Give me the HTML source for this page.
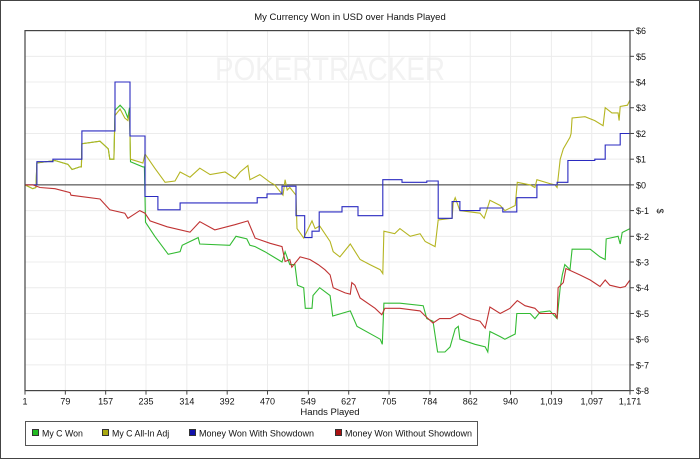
<!DOCTYPE html>
<html><head><meta charset="utf-8"><style>
html,body{margin:0;padding:0;background:#fff;}
svg{display:block;font-family:"Liberation Sans",sans-serif;}
</style></head><body>
<svg id="chart" width="700" height="459" viewBox="0 0 700 459">
<rect x="0.5" y="0.5" width="699" height="458" fill="#fff" stroke="#444"/>
<text x="350" y="20" text-anchor="middle" font-size="9.5" fill="#111">My Currency Won in USD over Hands Played</text>
<text x="330" y="80" text-anchor="middle" font-size="32" fill="#f2f2f2" textLength="230" lengthAdjust="spacingAndGlyphs">POKERTRACKER</text>
<g id="grid"></g>
<g id="series"></g>
<g id="axes"></g>
<text x="330" y="415" text-anchor="middle" font-size="9.5" fill="#111">Hands Played</text>
<text transform="translate(657,211) rotate(90)" text-anchor="middle" font-size="9" fill="#111">$</text>
<g>
<rect x="25.5" y="421.5" width="452" height="24" fill="#fff" stroke="#555"/>
<g><rect x="32.5" y="429.5" width="6" height="6" fill="#22bb22" stroke="#333"/><text x="42" y="436.5" font-size="8.8" fill="#111">My C Won</text></g>
<g><rect x="102.5" y="429.5" width="6" height="6" fill="#aaaa11" stroke="#333"/><text x="112" y="436.5" font-size="8.8" fill="#111">My C All-In Adj</text></g>
<g><rect x="189.5" y="429.5" width="6" height="6" fill="#1111aa" stroke="#333"/><text x="199" y="436.5" font-size="8.8" fill="#111" textLength="115" lengthAdjust="spacingAndGlyphs">Money Won With Showdown</text></g>
<g><rect x="335.5" y="429.5" width="6" height="6" fill="#aa1111" stroke="#333"/><text x="345" y="436.5" font-size="8.8" fill="#111" textLength="127" lengthAdjust="spacingAndGlyphs">Money Won Without Showdown</text></g>
</g>
</svg>
<script>
const xTicks=[1,79,157,235,314,392,470,549,627,705,784,862,940,1019,1097,1171];
const xTickLabels=["1","79","157","235","314","392","470","549","627","705","784","862","940","1,019","1,097","1,171"];
const yTicks=[6,5,4,3,2,1,0,-1,-2,-3,-4,-5,-6,-7,-8];
const greenHands=[1,16,22,24,59,84,92,107,110,111,146,162,165,173,175,185,194,200,203,205,229,232,234,252,278,301,305,336,339,397,409,430,436,446,465,498,504,513,523,528,540,543,556,558,571,591,596,630,643,688,692,695,726,771,778,790,799,813,823,833,839,842,871,891,896,900,920,929,949,952,978,987,997,1016,1030,1036,1040,1045,1055,1059,1094,1113,1123,1125,1148,1152,1156,1171];
const greenVals=[0,-0.15,-0.1,0.85,0.95,0.8,0.6,0.7,0.7,1.6,1.7,1.4,1.0,1.0,2.9,3.1,2.9,2.6,3.0,0.9,0.7,0.7,-1.45,-2.0,-2.7,-2.6,-2.35,-2.05,-2.3,-2.35,-2.0,-2.1,-2.35,-2.4,-2.6,-3.0,-2.6,-3.1,-3.1,-3.9,-4.0,-4.8,-4.8,-4.3,-4.0,-4.3,-5.1,-4.9,-5.5,-6.0,-6.2,-4.6,-4.6,-4.7,-5.2,-5.3,-6.5,-6.5,-6.3,-5.6,-5.5,-6.0,-6.2,-6.3,-6.5,-5.7,-5.9,-6.0,-5.8,-5.0,-5.0,-5.2,-4.95,-4.9,-5.2,-4.0,-3.5,-3.1,-3.3,-2.5,-2.5,-2.8,-2.9,-2.1,-2.0,-2.3,-1.85,-1.7];
const yellowHands=[1,16,22,24,59,84,92,107,110,111,146,162,165,173,175,185,194,200,203,205,229,233,252,272,291,301,320,339,359,388,407,417,432,436,455,475,484,500,504,508,513,525,527,540,556,562,571,591,597,610,630,649,668,688,693,695,716,726,746,765,775,794,800,827,829,833,842,881,889,900,920,929,949,953,978,987,991,1016,1026,1030,1036,1042,1055,1057,1059,1084,1103,1119,1123,1136,1148,1150,1152,1166,1171];
const yellowVals=[0,-0.15,-0.1,0.85,0.95,0.8,0.6,0.7,0.7,1.6,1.7,1.4,1.0,1.0,2.7,2.95,2.6,2.5,2.8,1.0,0.85,1.2,0.65,0.1,0.15,0.5,0.3,0.65,0.4,0.5,0.25,0.5,0.75,0.2,0.4,0.1,0.0,-0.4,0.2,-0.2,-0.1,-0.4,-1.7,-2.07,-1.4,-1.7,-1.6,-2.2,-2.6,-2.8,-2.3,-2.9,-3.1,-3.3,-3.45,-1.8,-1.9,-1.7,-2.0,-1.9,-2.2,-2.4,-1.36,-1.3,-0.7,-0.5,-1.0,-1.1,-1.3,-0.6,-0.8,-1.0,-0.8,0.1,0.0,-0.1,0.2,0.05,0.0,-0.1,1.0,1.4,1.85,2.0,2.6,2.65,2.5,2.3,3.0,2.8,2.8,2.5,3.05,3.1,3.3];
const blueHands=[1,24,55,111,175,204,233,258,301,450,469,498,525,542,556,570,614,645,693,730,778,800,827,842,881,925,952,991,1030,1051,1103,1123,1152,1171];
const blueVals=[0,0.9,1.0,2.1,4.0,1.9,-0.45,-0.97,-0.7,-0.5,-0.35,-0.05,-1.2,-2.05,-1.8,-1.05,-0.85,-1.2,0.2,0.1,0.15,-1.3,-0.65,-1.0,-0.9,-1.05,-0.5,0.0,0.1,0.95,1.0,1.55,2.0,2.0];
const redHands=[1,16,30,59,88,90,146,165,194,200,223,233,243,276,320,339,368,407,432,446,475,498,504,513,517,533,552,568,581,591,597,620,630,633,639,649,678,691,697,726,765,775,790,803,823,842,862,881,891,894,900,920,939,953,968,987,997,1026,1030,1032,1042,1047,1074,1094,1113,1123,1132,1152,1162,1171];
const redVals=[0,0,-0.1,-0.15,-0.3,-0.4,-0.55,-0.97,-1.1,-1.3,-1.0,-1.1,-1.4,-1.63,-1.84,-1.43,-1.75,-1.55,-1.4,-2.07,-2.27,-2.4,-2.98,-2.9,-3.2,-2.8,-2.9,-3.1,-3.3,-3.5,-4.0,-4.2,-4.25,-3.8,-3.9,-4.4,-4.8,-5.05,-4.8,-4.8,-4.9,-5.1,-5.37,-5.2,-5.2,-5.0,-5.2,-5.3,-5.57,-5.3,-4.75,-5.0,-4.8,-4.5,-4.7,-4.8,-5.0,-5.0,-5.2,-4.0,-3.8,-3.25,-3.5,-3.7,-3.95,-3.7,-3.9,-4.0,-3.95,-3.7];

const L=25,R=630,T=30.6,B=390.6;
const xs=h=>L+(h-1)*(R-L)/1170;
const ys=v=>T+(6-v)*(B-T)/14;
const NS='http://www.w3.org/2000/svg';
function mk(tag,attrs,parent){const e=document.createElementNS(NS,tag);for(const k in attrs)e.setAttribute(k,attrs[k]);parent.appendChild(e);return e;}
const grid=document.getElementById('grid'),axes=document.getElementById('axes'),series=document.getElementById('series');
xTicks.forEach((t,i)=>{
  const x=xs(t);
  if(i>0&&i<xTicks.length-1){const g=mk('line',{x1:x,x2:x,y1:T,y2:B,stroke:'#ececec'},grid);
  
  }
  const tk=mk('line',{x1:x,x2:x,y1:B,y2:B+4,stroke:'#444'},axes);
  
  
  const tx=mk('text',{x:x,y:B+14,'text-anchor':'middle','font-size':'9',fill:'#111'},axes);
  tx.textContent=xTickLabels[i];
  
  
});
yTicks.forEach(v=>{
  const y=ys(v);
  if(v!==0){const g=mk('line',{x1:L,x2:R,y1:y,y2:y,stroke:'#ececec'},grid);
  
  }
  const tk=mk('line',{x1:R,x2:R+4,y1:y,y2:y,stroke:'#444'},axes);
  
  
  const tx=mk('text',{x:R+6,y:y+3.5,'font-size':'9',fill:'#111'},axes);
  tx.textContent=v<0?('$-'+(-v)):('$'+v);
  
  
});
const zl=mk('line',{x1:L,x2:R,y1:ys(0),y2:ys(0),stroke:'#333','stroke-width':1},grid);


const fr=mk('rect',{x:L,y:T,width:R-L,height:B-T,fill:'none',stroke:'#444','stroke-width':1.2},axes);


function linePath(h,v){return h.map((hh,i)=>(i?'L':'M')+xs(hh).toFixed(1)+','+ys(v[i]).toFixed(1)).join('');}
function stepPath(h,v){let d='M'+xs(h[0])+','+ys(v[0]);for(let i=1;i<h.length;i++){d+='L'+xs(h[i]).toFixed(1)+','+ys(v[i-1]).toFixed(1)+'L'+xs(h[i]).toFixed(1)+','+ys(v[i]).toFixed(1);}return d;}
const p1=mk('path',{d:linePath(greenHands,greenVals),fill:'none',stroke:'#33bb33','stroke-width':1.1},series);


const p2=mk('path',{d:linePath(yellowHands,yellowVals),fill:'none',stroke:'#b5b522','stroke-width':1.1},series);


const p3=mk('path',{d:stepPath(blueHands,blueVals),fill:'none',stroke:'#2a2ac0','stroke-width':1.1},series);


const p4=mk('path',{d:linePath(redHands,redVals),fill:'none',stroke:'#c03333','stroke-width':1.1},series);


</script>
</body></html>
